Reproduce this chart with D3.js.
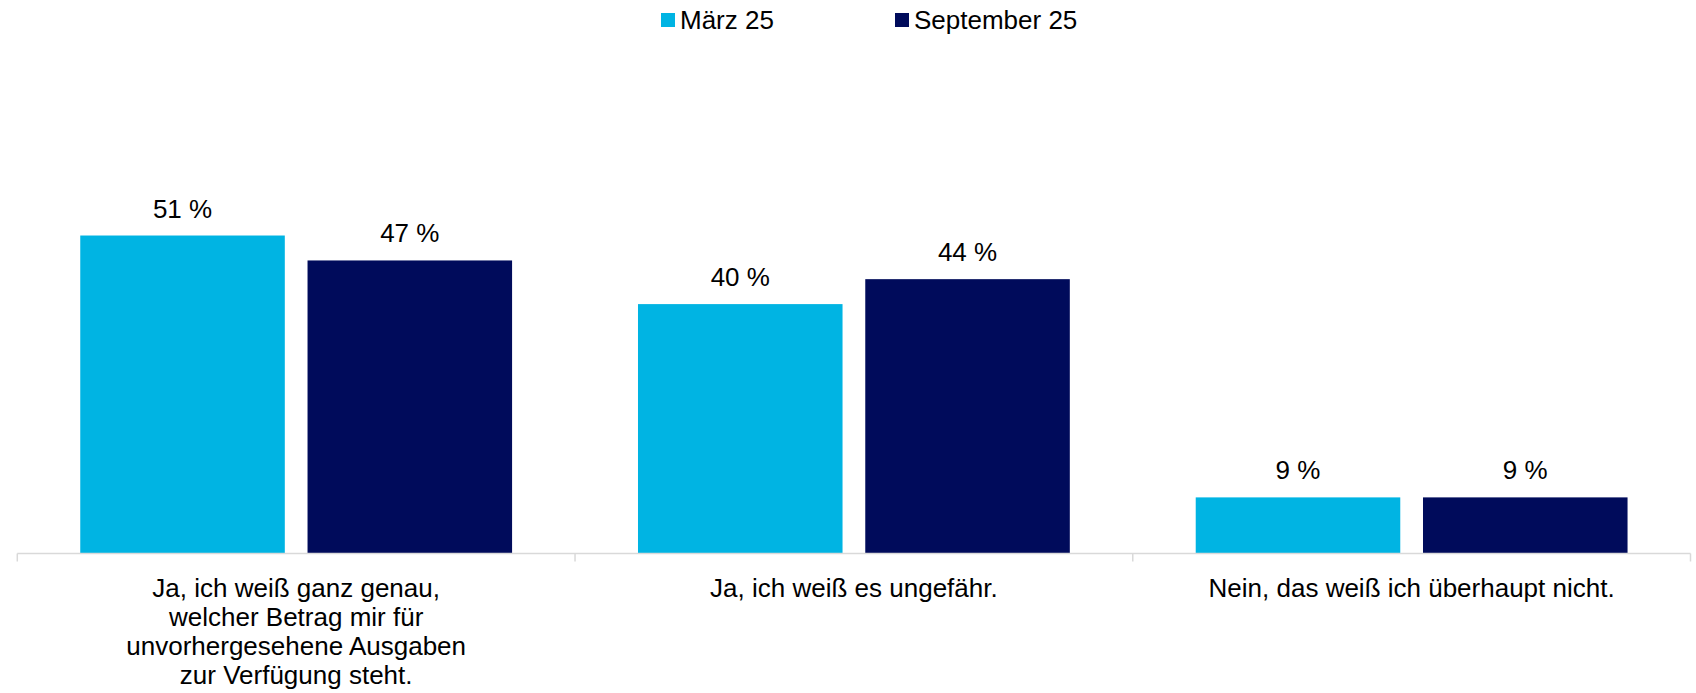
<!DOCTYPE html>
<html>
<head>
<meta charset="utf-8">
<script src="https://cdn.jsdelivr.net/npm/d3@7"></script>
<style>
  html, body { margin: 0; padding: 0; background: #ffffff; }
  svg { display: block; font-family: "Liberation Sans", Arial, sans-serif; }
</style>
</head>
<body>
<svg id="chart" width="1696" height="693"></svg>
<script>
// Answer categories, one entry per line of the axis label
const categories = [
  "Ja, ich weiß ganz genau, welcher Betrag mir für unvorhergesehene Ausgaben zur Verfügung steht.",
  "Ja, ich weiß es ungefähr.",
  "Nein, das weiß ich überhaupt nicht."
];
const categoryLines = [
  ["Ja, ich weiß ganz genau,", "welcher Betrag mir für", "unvorhergesehene Ausgaben", "zur Verfügung steht."],
  ["Ja, ich weiß es ungefähr."],
  ["Nein, das weiß ich überhaupt nicht."]
];
const seriesNames = ["März 25", "September 25"];
const maerz25 = [51, 40, 9];
const september25 = [47, 44, 9];
const seriesColors = ["#00B4E3", "#000B5B"];

const seriesValues = [maerz25, september25];
const rows = categories.map((c, i) => ({
  category: c,
  values: seriesNames.map((s, j) => ({ series: s, value: seriesValues[j][i] }))
}));

const svg = d3.select("#chart");
const axisY = 553.5;
const left = 17.3, right = 1690.5;

const x0 = d3.scaleBand().domain(categories).range([left, right]).padding(0);
const x1 = d3.scaleBand().domain(seriesNames).range([0, x0.bandwidth()])
  .paddingInner(0.1).paddingOuter(0.277);
const y = d3.scaleLinear().domain([0, 60]).range([axisY, axisY - 60 * 6.235]);
const color = d3.scaleOrdinal().domain(seriesNames).range(seriesColors);

// Bars and value labels
const groups = svg.append("g").selectAll("g").data(rows).join("g")
  .attr("transform", d => `translate(${x0(d.category)},0)`);

groups.selectAll("rect").data(d => d.values).join("rect")
  .attr("x", d => x1(d.series))
  .attr("y", d => y(d.value))
  .attr("width", x1.bandwidth())
  .attr("height", d => y(0) - y(d.value))
  .attr("fill", d => color(d.series));

groups.selectAll("text.val").data(d => d.values).join("text")
  .attr("class", "val")
  .attr("x", d => x1(d.series) + x1.bandwidth() / 2)
  .attr("y", d => y(d.value) - 18)
  .attr("text-anchor", "middle")
  .attr("font-size", 26)
  .attr("fill", "#000")
  .text(d => `${d.value} %`);

// Category axis with boundary ticks
const axis = svg.append("g");
axis.append("line")
  .attr("x1", left).attr("x2", right)
  .attr("y1", axisY).attr("y2", axisY)
  .attr("stroke", "#d9d9d9").attr("stroke-width", 1.5);
const boundaries = categories.map(c => x0(c)).concat([x0(categories[categories.length - 1]) + x0.bandwidth()]);
axis.selectAll("line.tick").data(boundaries).join("line")
  .attr("class", "tick")
  .attr("x1", d => d).attr("x2", d => d)
  .attr("y1", axisY).attr("y2", axisY + 8)
  .attr("stroke", "#d9d9d9").attr("stroke-width", 1.5);

const labels = axis.selectAll("text.cat").data(categories).join("text")
  .attr("class", "cat")
  .attr("text-anchor", "middle")
  .attr("font-size", 26)
  .attr("fill", "#000");
labels.each(function(c, i) {
  const t = d3.select(this);
  categoryLines[i].forEach((line, k) => {
    t.append("tspan")
      .attr("x", x0(c) + x0.bandwidth() / 2)
      .attr("y", 597 + k * 29)
      .text(line);
  });
});

// Legend
const legendX = [661, 895];
const legend = svg.append("g").selectAll("g").data(seriesNames).join("g")
  .attr("transform", (d, i) => `translate(${legendX[i]},13)`);
legend.append("rect")
  .attr("width", 14).attr("height", 14)
  .attr("fill", d => color(d));
legend.append("text")
  .attr("x", 19).attr("y", 16)
  .attr("font-size", 26)
  .attr("fill", "#000")
  .text(d => d);
</script>
</body>
</html>
